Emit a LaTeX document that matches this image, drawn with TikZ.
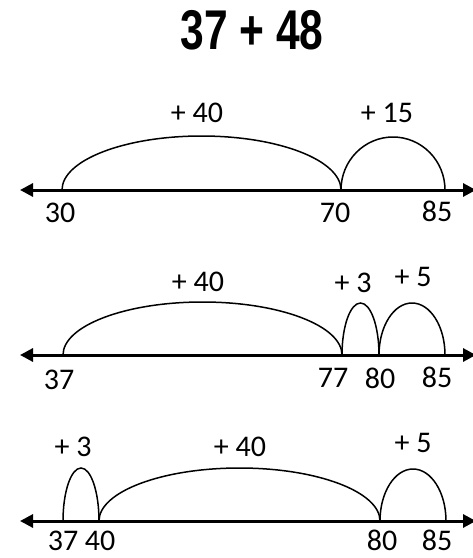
\documentclass[tikz,border=0pt]{standalone}
\usepackage{fontspec}
\setmainfont{Carlito}
\newfontfamily\titlefont{Liberation Sans}
\usetikzlibrary{arrows.meta}
\begin{document}
\begin{tikzpicture}[x=1pt,y=-1pt,
  numline/.style={line width=3pt,{Triangle[length=13pt,width=13pt]}-{Triangle[length=13pt,width=13pt]}},
  hop/.style={line width=1.5pt},
  lbl/.style={font=\fontsize{30}{30}\selectfont,inner sep=0pt},
  num/.style={font=\fontsize{30}{30}\selectfont,inner sep=0pt}]
\useasboundingbox (0,0) rectangle (473,558);
\node[inner sep=0pt] (title) at (252,30) {\scalebox{0.76}[1]{\titlefont\bfseries\fontsize{56}{56}\selectfont 37 + 48}};

% line 1
\coordinate (La) at (20,190);
\coordinate (Lb) at (476,190);
\draw[numline] (La) -- (Lb);
\coordinate (a30) at (62,190);
\coordinate (a70) at (341,190);
\coordinate (a85) at (445,190);
\draw[hop] (a30) arc[start angle=180,end angle=360,x radius=139.5,y radius=54];
\draw[hop] (a70) arc[start angle=180,end angle=360,x radius=52,y radius=53];
\node[lbl] (l1a) at (197,113) {+ 40};
\node[lbl] (l1b) at (387,113) {+ 15};
\node[num] (n30) at (60,213) {30};
\node[num] (n70) at (335,213) {70};
\node[num] (n85) at (437,211) {85};

% line 2
\coordinate (Ma) at (20,355);
\coordinate (Mb) at (476,355);
\draw[numline] (Ma) -- (Mb);
\coordinate (b37) at (63,355);
\coordinate (b77) at (342,355);
\coordinate (b80) at (379,355);
\coordinate (b85) at (445,355);
\draw[hop] (b37) arc[start angle=180,end angle=360,x radius=139.5,y radius=53];
\draw[hop] (b77) arc[start angle=180,end angle=360,x radius=18.5,y radius=52];
\draw[hop] (b80) arc[start angle=180,end angle=360,x radius=33,y radius=52];
\node[lbl] (l2a) at (198,282) {+ 40};
\node[lbl] (l2b) at (353,283) {+ 3};
\node[lbl] (l2c) at (413,277) {+ 5};
\node[num] (n37b) at (59,380) {37};
\node[num] (n77) at (333,378) {77};
\node[num] (n80b) at (380,378) {80};
\node[num] (n85b) at (437,377) {85};

% line 3
\coordinate (Na) at (20,521);
\coordinate (Nb) at (476,521);
\draw[numline] (Na) -- (Nb);
\coordinate (c37) at (63,521);
\coordinate (c40) at (99,521);
\coordinate (c80) at (380,521);
\coordinate (c85) at (446,521);
\draw[hop] (c37) arc[start angle=180,end angle=360,x radius=18,y radius=53];
\draw[hop] (c40) arc[start angle=180,end angle=360,x radius=140.5,y radius=53];
\draw[hop] (c80) arc[start angle=180,end angle=360,x radius=33,y radius=52];
\node[lbl] (l3a) at (73,447) {+ 3};
\node[lbl] (l3b) at (240,447) {+ 40};
\node[lbl] (l3c) at (413,443) {+ 5};
\node[num] (n37c) at (63,541) {37};
\node[num] (n40c) at (100,541) {40};
\node[num] (n80c) at (382,540) {80};
\node[num] (n85c) at (437,540) {85};
\end{tikzpicture}
\end{document}
